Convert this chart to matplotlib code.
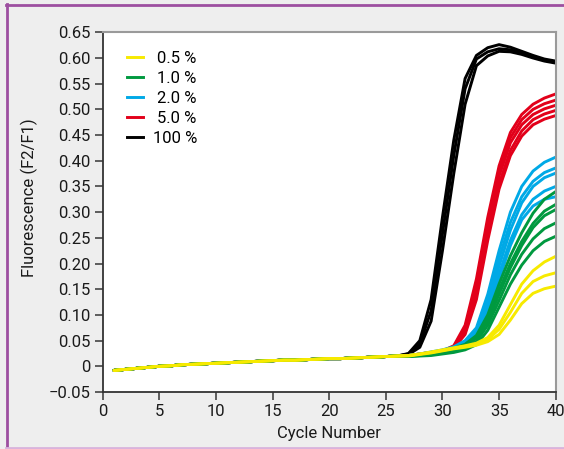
import matplotlib
matplotlib.use("Agg")
import matplotlib.pyplot as plt
from matplotlib.lines import Line2D
import numpy as np

plt.rcParams['font.family'] = ['Roboto', 'DejaVu Sans']
plt.rcParams['axes.unicode_minus'] = True

# shared baseline, cycles 1..26
BASE = [-0.008, -0.006, -0.004, -0.002, 0.000, 0.001, 0.003, 0.004, 0.005, 0.006,
        0.007, 0.008, 0.009, 0.010, 0.011, 0.012, 0.012, 0.013, 0.014, 0.015,
        0.015, 0.016, 0.017, 0.018, 0.019, 0.020]

# tails, cycles 27..40
BLACK = [
    [0.025, 0.050, 0.130, 0.290, 0.440, 0.560, 0.605, 0.620, 0.626, 0.621, 0.613, 0.605, 0.598, 0.594],
    [0.024, 0.043, 0.108, 0.258, 0.410, 0.540, 0.598, 0.612, 0.618, 0.616, 0.610, 0.603, 0.596, 0.592],
    [0.023, 0.037, 0.088, 0.225, 0.375, 0.510, 0.585, 0.604, 0.613, 0.612, 0.607, 0.600, 0.594, 0.590],
]
RED = [
    [0.021, 0.024, 0.027, 0.030, 0.040, 0.080, 0.170, 0.290, 0.390, 0.455, 0.490, 0.510, 0.522, 0.530],
    [0.021, 0.024, 0.027, 0.030, 0.038, 0.075, 0.160, 0.280, 0.380, 0.445, 0.480, 0.500, 0.511, 0.518],
    [0.021, 0.023, 0.026, 0.029, 0.037, 0.070, 0.150, 0.270, 0.370, 0.435, 0.470, 0.490, 0.501, 0.508],
    [0.021, 0.023, 0.026, 0.029, 0.036, 0.066, 0.140, 0.255, 0.355, 0.420, 0.458, 0.480, 0.491, 0.498],
    [0.020, 0.023, 0.025, 0.028, 0.035, 0.062, 0.130, 0.245, 0.345, 0.410, 0.448, 0.470, 0.481, 0.488],
]
BLUE = [
    [0.021, 0.024, 0.028, 0.032, 0.038, 0.050, 0.075, 0.140, 0.225, 0.300, 0.350, 0.380, 0.397, 0.407],
    [0.021, 0.024, 0.027, 0.031, 0.037, 0.048, 0.070, 0.130, 0.210, 0.280, 0.330, 0.360, 0.377, 0.386],
    [0.021, 0.023, 0.027, 0.031, 0.036, 0.046, 0.066, 0.120, 0.195, 0.265, 0.318, 0.350, 0.367, 0.376],
    [0.020, 0.023, 0.026, 0.030, 0.035, 0.044, 0.062, 0.110, 0.180, 0.245, 0.295, 0.325, 0.341, 0.350],
    [0.020, 0.022, 0.026, 0.030, 0.035, 0.043, 0.060, 0.105, 0.170, 0.235, 0.285, 0.312, 0.325, 0.330],
]
GREEN = [
    [0.021, 0.023, 0.026, 0.030, 0.035, 0.043, 0.060, 0.100, 0.160, 0.215, 0.260, 0.298, 0.325, 0.340],
    [0.020, 0.022, 0.025, 0.029, 0.034, 0.041, 0.056, 0.092, 0.148, 0.200, 0.243, 0.278, 0.302, 0.315],
    [0.020, 0.022, 0.025, 0.028, 0.033, 0.040, 0.054, 0.088, 0.140, 0.192, 0.235, 0.270, 0.293, 0.305],
    [0.019, 0.021, 0.023, 0.026, 0.030, 0.036, 0.048, 0.080, 0.128, 0.178, 0.218, 0.248, 0.268, 0.279],
    [0.019, 0.020, 0.021, 0.024, 0.027, 0.032, 0.042, 0.070, 0.115, 0.160, 0.197, 0.225, 0.243, 0.253],
]
YELLOW = [
    [0.021, 0.024, 0.028, 0.032, 0.036, 0.040, 0.045, 0.056, 0.080, 0.120, 0.160, 0.186, 0.203, 0.214],
    [0.021, 0.024, 0.027, 0.031, 0.035, 0.039, 0.043, 0.052, 0.072, 0.105, 0.142, 0.165, 0.176, 0.182],
    [0.020, 0.023, 0.026, 0.030, 0.034, 0.037, 0.041, 0.048, 0.062, 0.090, 0.122, 0.142, 0.151, 0.156],
]

LABELS = ["0.5 %", "1.0 %", "2.0 %", "5.0 %", "100 %"]
COLORS = ["#f7ea00", "#00993f", "#00a9e6", "#e2001a", "#000000"]
GROUPS = [YELLOW, GREEN, BLUE, RED, BLACK]

cycles = np.arange(1, 41)
FS = 12

fig = plt.figure(figsize=(5.64, 4.49), dpi=100, facecolor="#eeeeee")
ax = fig.add_axes([102.7 / 564, 1 - 392 / 449, 453 / 564, 359.7 / 449])
ax.set_facecolor("white")

# draw order: black first, yellow last (on top)
for grp, col in list(zip(GROUPS, COLORS))[::-1]:
    for tail in grp:
        ax.plot(cycles, BASE + tail, color=col, lw=2.1, solid_capstyle="round",
                solid_joinstyle="round")

handles = [Line2D([], [], color=c, lw=2.1) for c in COLORS]
leg = ax.legend(handles, LABELS, loc="upper left", bbox_to_anchor=(0.036, 0.972),
                frameon=False, fontsize=FS, handlelength=0.95, handletextpad=0.6,
                labelspacing=0.3, borderpad=0)

# right-align legend labels
renderer = fig.canvas.get_renderer()
widths = [t.get_window_extent(renderer).width for t in leg.get_texts()]
maxw = max(widths) * 72 / fig.dpi
for t, w in zip(leg.get_texts(), widths):
    t.set_ha("right")
    t.set_position((maxw - w * 72 / fig.dpi, 0))

ax.set_xlim(0, 40)
ax.set_ylim(-0.05, 0.65)
ax.set_xticks(np.arange(0, 41, 5))
yt = np.round(np.arange(-0.05, 0.651, 0.05), 2)
ax.set_yticks(yt)
ax.set_yticklabels(["0" if v == 0 else ("\u2212%.2f" % -v if v < 0 else "%.2f" % v) for v in yt])

ax.tick_params(axis="both", direction="out", length=6, width=1.2, color="#444444",
               labelsize=FS, labelcolor="#1a1a1a", pad=3)

for s in ["left", "bottom"]:
    ax.spines[s].set_color("#333333")
    ax.spines[s].set_linewidth(1.3)
for s in ["top", "right"]:
    ax.spines[s].set_color("#9a9a9a")
    ax.spines[s].set_linewidth(1.5)

ax.set_xlabel("Cycle Number", fontsize=FS, color="#1a1a1a")
ax.xaxis.set_label_coords(0.5, -0.115)
ax.xaxis.label.set_va("center")
ax.set_ylabel("Fluorescence (F2/F1)", fontsize=FS, color="#1a1a1a")
ax.yaxis.set_label_coords(-0.161, 0.54)
ax.yaxis.label.set_va("center")

# purple frame round the picture
fig.add_artist(Line2D([7 / 564, 7 / 564], [0, 1 - 4 / 449], transform=fig.transFigure,
                      color="#9d4fa0", lw=2))
fig.add_artist(Line2D([6 / 564, 1], [1 - 5 / 449, 1 - 5 / 449], transform=fig.transFigure,
                      color="#9d4fa0", lw=2))
fig.add_artist(Line2D([6 / 564, 1], [1.5 / 449, 1.5 / 449], transform=fig.transFigure,
                      color="#d9b3dc", lw=2))

fig.savefig("out.png", dpi=100, facecolor=fig.get_facecolor())
